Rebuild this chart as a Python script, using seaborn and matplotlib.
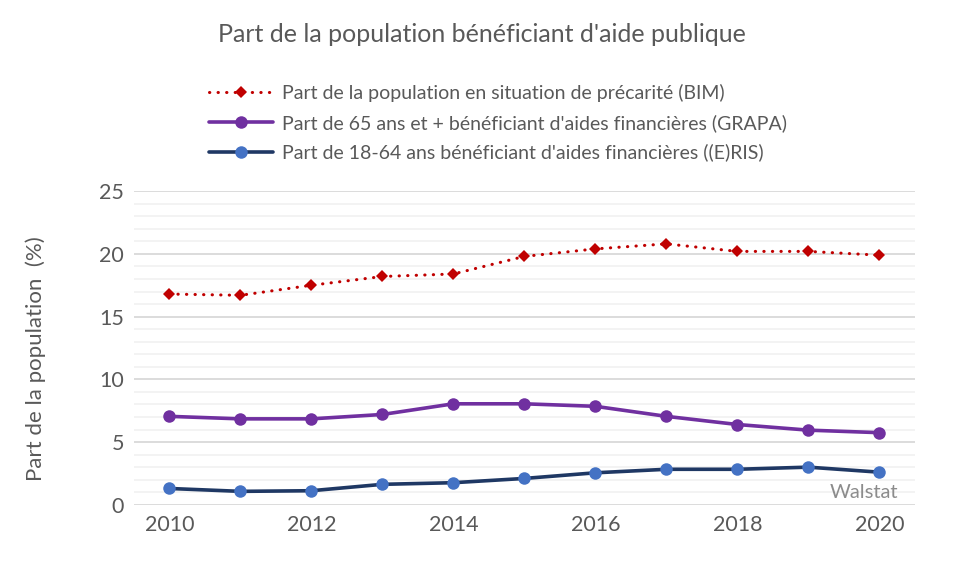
import pandas as pd
import numpy as np
import matplotlib
matplotlib.use("Agg")
import matplotlib.pyplot as plt
from matplotlib.ticker import MultipleLocator
import seaborn as sns

# data
years = list(range(2010, 2021))
bim = [16.8, 16.7, 17.5, 18.2, 18.4, 19.8, 20.4, 20.8, 20.2, 20.2, 19.9]
grapa = [7.05, 6.85, 6.85, 7.2, 8.05, 8.05, 7.85, 7.05, 6.4, 5.95, 5.75]
eris = [1.3, 1.07, 1.12, 1.63, 1.76, 2.1, 2.55, 2.83, 2.83, 3.0, 2.6]

labels = [
    "Part de la population en situation de précarité (BIM)",
    "Part de 65 ans et + bénéficiant d'aides financières (GRAPA)",
    "Part de 18-64 ans bénéficiant d'aides financières ((E)RIS)",
]

df = pd.DataFrame({"annee": years, "bim": bim, "grapa": grapa, "eris": eris})

sns.set_style("white")
plt.rcParams["font.family"] = ["Lato", "DejaVu Sans"]
txt = "#595959"

fig = plt.figure(figsize=(9.63, 5.64), dpi=100)
ax = fig.add_axes([0.139, 0.105, 0.811, 0.556])

# dotted red line with diamonds
sns.lineplot(data=df, x="annee", y="bim", ax=ax, color="#c00000", linewidth=2.2,
             linestyle=(0, (0.1, 2.7)), dash_capstyle="round",
             marker="D", markersize=6.5, markeredgewidth=0, label=labels[0])
sns.lineplot(data=df, x="annee", y="grapa", ax=ax, color="#7030a0", linewidth=2.6,
             marker="o", markersize=9, markeredgewidth=0, label=labels[1])
sns.lineplot(data=df, x="annee", y="eris", ax=ax, color="#1f3864", linewidth=2.6,
             marker="o", markersize=9, markerfacecolor="#4472c4",
             markeredgewidth=0, label=labels[2])

ax.set_xlim(2009.5, 2020.5)
ax.set_ylim(0, 25)
ax.set_xticks([2010, 2012, 2014, 2016, 2018, 2020])
ax.yaxis.set_major_locator(MultipleLocator(5))
ax.yaxis.set_minor_locator(MultipleLocator(1))
ax.grid(axis="y", which="major", color="#d9d9d9", linewidth=1.3)
ax.grid(axis="y", which="minor", color="#f0f0f0", linewidth=1.1)
ax.grid(axis="x", visible=False)
ax.set_axisbelow(True)
for s in ax.spines.values():
    s.set_visible(False)
ax.tick_params(axis="both", which="both", length=0, labelsize=15.5, labelcolor=txt, pad=7)
ax.set_xlabel("")
ax.set_ylabel("Part de la population  (%)", fontsize=16, color=txt)
ax.yaxis.set_label_coords(-0.113, 0.465)

handles, labs = ax.get_legend_handles_labels()
ax.get_legend().remove()
fig.legend(handles, labs, loc="upper left", bbox_to_anchor=(0.207, 0.868),
           frameon=False, fontsize=14, labelcolor=txt, handlelength=3.3,
           handletextpad=0.45, labelspacing=0.6, borderpad=0)

fig.suptitle("Part de la population bénéficiant d'aide publique", x=0.5, y=0.96,
             fontsize=18, color=txt)

ax.text(2020.27, 0.3, "Walstat", ha="right", va="bottom", fontsize=14.5, color="#8c8c8c")

fig.savefig("out.png", dpi=100)
